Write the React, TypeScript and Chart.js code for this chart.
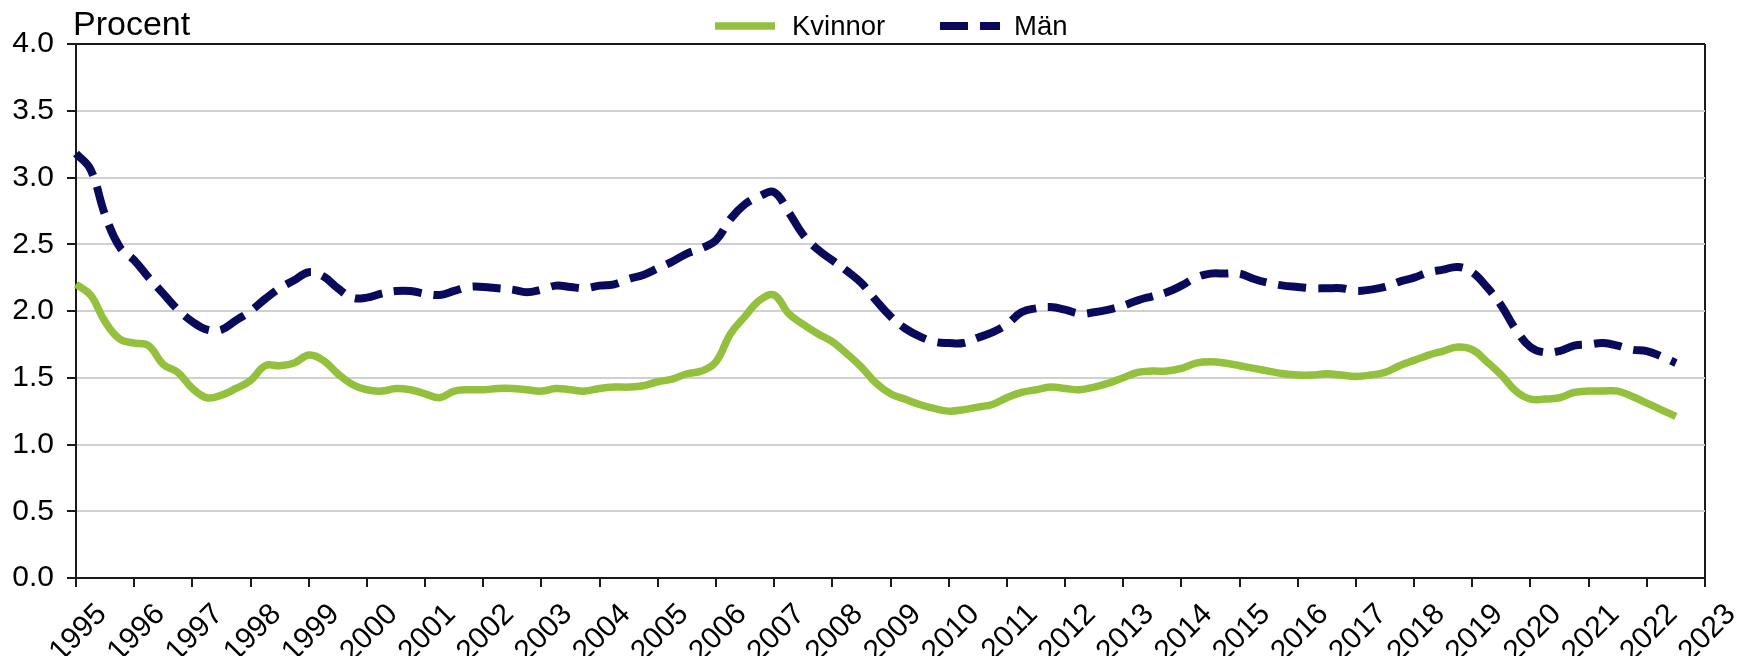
import React, { useEffect, useRef } from "react";
import { Chart, registerables } from "chart.js";

Chart.register(...registerables);

// Quarterly categories 1995 K1 .. 2023 K1
const firstYear = 1995;
const lastYear = 2023;
const quarterNames = ["K1", "K2", "K3", "K4"];
const quarterLabels: string[] = [];
for (let y = firstYear; y <= lastYear; y++) {
  for (const q of quarterNames) {
    quarterLabels.push(`${y} ${q}`);
    if (y === lastYear) break;
  }
}

const seriesNames = ["Kvinnor", "Män"];

// Kvinnor, percent, quarterly from 1995 K1 to 2022 K3
const kvinnor = [
  2.20, 2.12, 1.92, 1.79,
  1.76, 1.74, 1.60, 1.54,
  1.42, 1.35, 1.37, 1.42,
  1.48, 1.59, 1.59, 1.61,
  1.67, 1.63, 1.53, 1.45,
  1.41, 1.40, 1.42, 1.41,
  1.38, 1.35, 1.40, 1.41,
  1.41, 1.42, 1.42, 1.41,
  1.40, 1.42, 1.41, 1.40,
  1.42, 1.43, 1.43, 1.44,
  1.47, 1.49, 1.53, 1.55,
  1.62, 1.83, 1.96, 2.08,
  2.12, 1.98, 1.90, 1.83,
  1.77, 1.68, 1.58, 1.46,
  1.38, 1.34, 1.30, 1.27,
  1.25, 1.26, 1.28, 1.30,
  1.35, 1.39, 1.41, 1.43,
  1.42, 1.41, 1.43, 1.46,
  1.50, 1.54, 1.55, 1.55,
  1.57, 1.61, 1.62, 1.61,
  1.59, 1.57, 1.55, 1.53,
  1.52, 1.52, 1.53, 1.52,
  1.51, 1.52, 1.54, 1.59,
  1.63, 1.67, 1.70, 1.73,
  1.71, 1.62, 1.52, 1.40,
  1.34, 1.34, 1.35, 1.39,
  1.40, 1.40, 1.40, 1.36,
  1.31, 1.26, 1.21,
];

// Män, percent, quarterly from 1995 K1 to 2022 K3
const man = [
  3.18, 3.06, 2.72, 2.48,
  2.38, 2.25, 2.13, 2.01,
  1.92, 1.86, 1.86, 1.93,
  2.00, 2.09, 2.17, 2.23,
  2.29, 2.26, 2.17, 2.10,
  2.10, 2.13, 2.15, 2.15,
  2.13, 2.12, 2.15, 2.18,
  2.18, 2.17, 2.16, 2.14,
  2.16, 2.19, 2.18, 2.17,
  2.19, 2.20, 2.24, 2.27,
  2.32, 2.37, 2.43, 2.47,
  2.53, 2.69, 2.80, 2.86,
  2.89, 2.74, 2.57, 2.46,
  2.38, 2.30, 2.21, 2.08,
  1.96, 1.87, 1.81, 1.77,
  1.76, 1.76, 1.80, 1.84,
  1.90, 1.99, 2.02, 2.03,
  2.01, 1.98, 1.99, 2.01,
  2.04, 2.08, 2.11, 2.14,
  2.19, 2.25, 2.28, 2.28,
  2.28, 2.24, 2.21, 2.19,
  2.18, 2.17, 2.17, 2.17,
  2.15, 2.16, 2.18, 2.22,
  2.25, 2.29, 2.31, 2.33,
  2.29, 2.18, 2.04, 1.86,
  1.73, 1.69, 1.70, 1.74,
  1.75, 1.76, 1.74, 1.71,
  1.70, 1.66, 1.61,
];

const yAxisTitle = "Procent";
const yMin = 0;
const yMax = 4;
const yStep = 0.5;

const FONT = "'Liberation Sans', Arial, Helvetica, sans-serif";
const GREEN = "#93c13e";
const NAVY = "#0a0a5c";
const AXIS = "#1a1a1a";
const GRID = "#d0d0d0";

const overlayPlugin = {
  id: "overlay",
  afterDraw(chart: any) {
    const ctx = chart.ctx;
    const area = chart.chartArea;
    ctx.save();
    // y-axis title
    ctx.fillStyle = "#000";
    ctx.font = `34px ${FONT}`;
    ctx.textAlign = "left";
    ctx.textBaseline = "alphabetic";
    ctx.fillText(yAxisTitle, area.left - 3, 27);

    // legend
    ctx.font = `27.5px ${FONT}`;
    ctx.textBaseline = "middle";
    const ly = 18;
    const lineW = 60;
    const starts = [area.left + 639, area.left + 864];
    const gaps = [17, 14];
    chart.data.datasets.forEach((ds: any, i: number) => {
      const x0 = starts[i];
      ctx.beginPath();
      ctx.setLineDash(ds.borderDash || []);
      ctx.lineWidth = ds.borderWidth;
      ctx.strokeStyle = ds.borderColor;
      ctx.lineCap = "butt";
      ctx.moveTo(x0, ly);
      ctx.lineTo(x0 + lineW, ly);
      ctx.stroke();
      ctx.setLineDash([]);
      ctx.fillStyle = "#000";
      ctx.fillText(ds.label, x0 + lineW + gaps[i], ly + 1);
    });
    ctx.restore();
  },
};

export default function App() {
  const canvasRef = useRef<HTMLCanvasElement | null>(null);

  useEffect(() => {
    if (!canvasRef.current) return;
    const chart = new Chart(canvasRef.current, {
      type: "line",
      data: {
        labels: quarterLabels,
        datasets: [
          {
            label: seriesNames[0],
            data: kvinnor,
            borderColor: GREEN,
            backgroundColor: GREEN,
            borderWidth: 7.5,
            pointRadius: 0,
            tension: 0.4,
            fill: false,
          },
          {
            label: seriesNames[1],
            data: man,
            borderColor: NAVY,
            backgroundColor: NAVY,
            borderWidth: 8,
            borderDash: [28, 12],
            pointRadius: 0,
            tension: 0.4,
            fill: false,
          },
        ],
      },
      options: {
        responsive: false,
        animation: false,
        layout: { padding: { top: 36, right: 31, left: 0, bottom: 0 } },
        plugins: {
          legend: { display: false },
          title: { display: false },
          tooltip: { enabled: false },
        },
        scales: {
          x: {
            type: "category",
            offset: false,
            border: { display: true, color: AXIS, width: 2 },
            grid: {
              drawOnChartArea: true,
              color: (c: any) =>
                c.index === (c.scale?.ticks?.length ?? 0) - 1 ? AXIS : "rgba(0,0,0,0)",
              lineWidth: 2,
              tickLength: 9,
              tickColor: AXIS,
              tickWidth: 2,
            },
            ticks: {
              autoSkip: false,
              maxRotation: 45,
              minRotation: 45,
              labelOffset: 26,
              padding: 10,
              color: "#000",
              font: { family: FONT, size: 30 },
              callback: function (this: any, value: any) {
                return String(this.getLabelForValue(value)).slice(0, 4);
              },
            },
            afterBuildTicks: (scale: any) => {
              scale.ticks = scale.ticks.filter((t: any) =>
                String(quarterLabels[t.value]).endsWith("K1")
              );
            },
            afterFit: (scale: any) => {
              scale.height = 78;
              scale.paddingLeft = 0;
              scale.paddingRight = 0;
            },
          },
          y: {
            min: yMin,
            max: yMax,
            border: { display: true, color: AXIS, width: 2 },
            grid: {
              color: (c: any) =>
                c.tick && (c.tick.value === yMax || c.tick.value === yMin) ? AXIS : GRID,
              lineWidth: 2,
              tickLength: 9,
              tickColor: AXIS,
              tickWidth: 2,
            },
            ticks: {
              stepSize: yStep,
              padding: 13,
              color: "#000",
              font: { family: FONT, size: 30 },
              callback: (v: any) => Number(v).toFixed(1),
            },
            afterFit: (scale: any) => {
              scale.width = 68;
            },
          },
        },
      },
      plugins: [overlayPlugin],
    });
    return () => chart.destroy();
  }, []);

  return (
    <canvas
      ref={canvasRef}
      width={1728}
      height={648}
      style={{ display: "block", width: "1728px", height: "648px" }}
    />
  );
}
